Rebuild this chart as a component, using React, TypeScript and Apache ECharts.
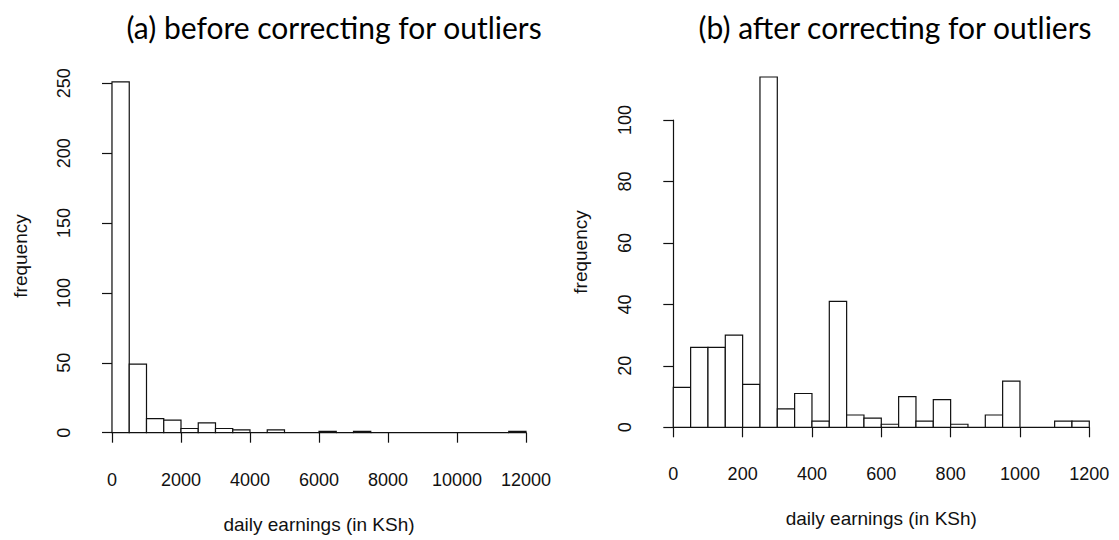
import React, { useEffect, useRef } from "react";
import * as echarts from "echarts";

// Histogram (a): bins of 500 KSh, 0 .. 12000
const binStartsA = [0, 500, 1000, 1500, 2000, 2500, 3000, 3500, 4000, 4500, 5000, 5500, 6000, 6500, 7000, 7500, 8000, 8500, 9000, 9500, 10000, 10500, 11000, 11500];
const countsA = [251, 49, 10, 9, 3, 7, 3, 2, 0, 2, 0, 0, 1, 0, 1, 0, 0, 0, 0, 0, 0, 0, 0, 1];
const binWidthA = 500;

// Histogram (b): bins of 50 KSh, 0 .. 1200
const binStartsB = [0, 50, 100, 150, 200, 250, 300, 350, 400, 450, 500, 550, 600, 650, 700, 750, 800, 850, 900, 950, 1000, 1050, 1100, 1150];
const countsB = [13, 26, 26, 30, 14, 114, 6, 11, 2, 41, 4, 3, 1, 10, 2, 9, 1, 0, 4, 15, 0, 0, 2, 2];
const binWidthB = 50;

const titleA = "(a) before correcting for outliers";
const titleB = "(b) after correcting for outliers";
const xName = "daily earnings (in KSh)";
const yName = "frequency";

const TICK_FONT = "'Liberation Sans', Arial, sans-serif";
const TITLE_FONT = "Lato, 'Open Sans', sans-serif";

function histData(starts: number[], counts: number[], w: number) {
  return starts.map((s, i) => [s, s + w, counts[i]]);
}

const renderBar = (params: any, api: any) => {
  const x0 = api.value(0);
  const x1 = api.value(1);
  const c = api.value(2);
  const p0 = api.coord([x0, 0]);
  const p1 = api.coord([x1, c]);
  return {
    type: "rect",
    shape: { x: p0[0], y: p1[1], width: p1[0] - p0[0], height: p0[1] - p1[1] },
    style: { fill: "#fff", stroke: "#111", lineWidth: 1.2 },
  };
};

const plain = (v: number) => String(v);

function xAxisCfg(grid: number, max: number, interval: number) {
  return {
    type: "value",
    gridIndex: grid,
    min: 0,
    max,
    interval,
    offset: 15,
    axisLine: { show: true, lineStyle: { color: "#111", width: 1.2 } },
    axisTick: { show: true, length: 10, lineStyle: { color: "#111", width: 1.2 } },
    axisLabel: { color: "#111", fontSize: 18, fontFamily: TICK_FONT, margin: 23, formatter: plain },
    splitLine: { show: false },
    name: xName,
    nameLocation: "middle",
    nameGap: 67,
    nameTextStyle: { color: "#111", fontSize: 19, fontFamily: TICK_FONT },
  };
}

function yAxisCfg(grid: number, max: number, interval: number) {
  return {
    type: "value",
    gridIndex: grid,
    min: 0,
    max,
    interval,
    offset: 16,
    axisLine: { show: true, lineStyle: { color: "#111", width: 1.2 } },
    axisTick: { show: true, length: 10, lineStyle: { color: "#111", width: 1.2 } },
    axisLabel: { color: "#111", fontSize: 18, fontFamily: TICK_FONT, rotate: 90, margin: 23, formatter: plain },
    splitLine: { show: false },
  };
}

export default function App() {
  const ref = useRef<HTMLDivElement>(null);
  useEffect(() => {
    document.body.style.margin = "0";
    const chart = echarts.init(ref.current!, null, { renderer: "svg" });
    chart.setOption({
      animation: false,
      backgroundColor: "#fff",
      grid: [
        { left: 112, top: 83.3, width: 414, height: 349.4 },
        { left: 673.3, top: 120, width: 416, height: 307.3 },
      ],
      xAxis: [xAxisCfg(0, 12000, 2000), xAxisCfg(1, 1200, 200)],
      yAxis: [yAxisCfg(0, 250, 50), yAxisCfg(1, 100, 20)],
      series: [
        {
          type: "custom",
          xAxisIndex: 0,
          yAxisIndex: 0,
          clip: false,
          renderItem: renderBar,
          encode: { x: [0, 1], y: 2 },
          data: histData(binStartsA, countsA, binWidthA),
        },
        {
          type: "custom",
          xAxisIndex: 1,
          yAxisIndex: 1,
          clip: false,
          renderItem: renderBar,
          encode: { x: [0, 1], y: 2 },
          data: histData(binStartsB, countsB, binWidthB),
        },
      ],
      graphic: [
        {
          type: "text",
          x: 334,
          y: 27,
          style: { text: titleA, align: "center", verticalAlign: "middle", fontSize: 30, fontFamily: TITLE_FONT, fill: "#000" },
        },
        {
          type: "text",
          x: 895,
          y: 27,
          style: { text: titleB, align: "center", verticalAlign: "middle", fontSize: 30, fontFamily: TITLE_FONT, fill: "#000" },
        },
        {
          type: "text",
          x: 20,
          y: 256,
          rotation: Math.PI / 2,
          style: { text: yName, align: "center", verticalAlign: "middle", fontSize: 19, fontFamily: TICK_FONT, fill: "#111" },
        },
        {
          type: "text",
          x: 580,
          y: 252,
          rotation: Math.PI / 2,
          style: { text: yName, align: "center", verticalAlign: "middle", fontSize: 19, fontFamily: TICK_FONT, fill: "#111" },
        },
      ],
    });
    return () => chart.dispose();
  }, []);
  return <div ref={ref} style={{ position: "fixed", left: 0, top: 0, width: 1119, height: 540 }} />;
}
